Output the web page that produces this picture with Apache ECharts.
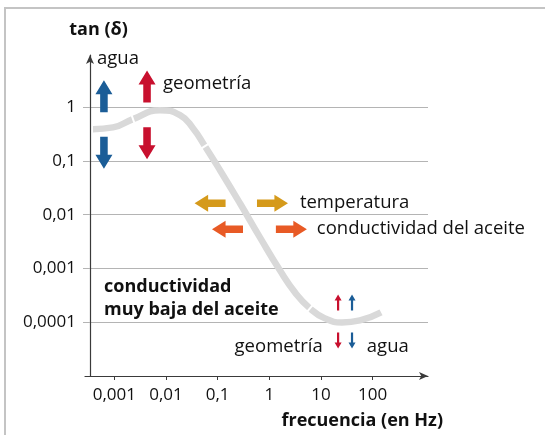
<!DOCTYPE html>
<html>
<head>
<meta charset="utf-8">
<script src="https://cdn.jsdelivr.net/npm/echarts@6/dist/echarts.min.js"></script>
<style>
  html, body { margin: 0; padding: 0; background: #fff; }
  #chart { width: 545px; height: 435px; }
</style>
</head>
<body>
<div id="chart"></div>
<script>
// ejes (escala logarítmica)
var xTicks = [0.001, 0.01, 0.1, 1, 10, 100];
var xTickLabels = ['0,001', '0,01', '0,1', '1', '10', '100'];
var yTicks = [0.0001, 0.001, 0.01, 0.1, 1];
var yTickLabels = ['0,0001', '0,001', '0,01', '0,1', '1'];

// curva tan(δ) frente a frecuencia
var curveFreq = [0.000387, 0.000944, 0.0023, 0.00766, 0.0187, 0.0333, 0.0568, 0.111, 0.27, 0.658, 1.6, 3.13, 6.1, 11.9, 25.4, 56.6, 145];
var curveTan = [0.39, 0.42, 0.60, 0.88, 0.71, 0.406, 0.188, 0.0671, 0.0163, 0.00379, 0.000922, 0.000359, 0.000181, 0.000118, 0.0000991, 0.000108, 0.000152];
// cortes blancos de la curva (índices de puntos)
var curveGaps = [2, 6, 12];

// flechas: [frecuencia, tan(δ)]
var blueUp = [[0.00063, 1.6]];
var blueDown = [[0.00063, 0.142]];
var redUp = [[0.0043, 2.41]];
var redDown = [[0.0043, 0.214]];
var goldLeft = [[0.0713, 0.0163]];
var goldRight = [[1.15, 0.0163]];
var orangeLeft = [[0.155, 0.00535]];
var orangeRight = [[2.67, 0.00535]];
var smallRedUp = [[21.4, 0.000234]];
var smallRedDown = [[21.4, 0.0000457]];
var smallBlueUp = [[39.8, 0.000234]];
var smallBlueDown = [[39.8, 0.0000457]];

// textos: [frecuencia, tan(δ), texto]
var notesLeft = [
    [0.000462, 7.83, 'agua'],
    [0.00875, 2.68, 'geometría'],
    [3.9, 0.017, 'temperatura'],
    [8.3, 0.00558, 'conductividad del aceite'],
    [76.9, 0.0000355, 'agua']
];
var notesRight = [
    [10.8, 0.0000355, 'geometría']
];
var notesBold = [
    [0.000632, 0.000272, 'conductividad\nmuy baja del aceite']
];

var FONT = '"Open Sans", "Noto Sans", sans-serif';
var TXT = '#111';

var P_UP = 'path://M9,0 L18,14 L13,14 L13,32 L5,32 L5,14 L0,14 Z';
var P_DOWN = 'path://M9,32 L18,18 L13,18 L13,0 L5,0 L5,18 L0,18 Z';
var P_LEFT = 'path://M0,9 L14,0 L14,5 L32,5 L32,13 L14,13 L14,18 Z';
var P_RIGHT = 'path://M32,9 L18,0 L18,5 L0,5 L0,13 L18,13 L18,18 Z';
var P_SUP = 'path://M3.5,0 L7,6 L4.6,6 L4.6,16 L2.4,16 L2.4,6 L0,6 Z';
var P_SDOWN = 'path://M3.5,16 L7,10 L4.6,10 L4.6,0 L2.4,0 L2.4,10 L0,10 Z';

function arrows(pts, path, size, color) {
    return {
        type: 'scatter',
        data: pts,
        symbol: path,
        symbolSize: size,
        itemStyle: { color: color, opacity: 1 },
        silent: true,
        z: 5
    };
}

function notes(pts, pos, bold, size, lineHeight) {
    return {
        type: 'scatter',
        data: pts.map(function (p) { return { value: [p[0], p[1]], name: p[2] }; }),
        symbolSize: 0,
        silent: true,
        clip: false,
        itemStyle: { opacity: 1 },
        label: {
            show: true,
            position: pos,
            distance: 0,
            formatter: '{b}',
            fontFamily: FONT,
            fontSize: size,
            fontWeight: bold ? 'bold' : 'normal',
            lineHeight: lineHeight || 22,
            color: TXT,
            opacity: 1
        },
        z: 6
    };
}

function tickText(ticks, labels) {
    return function (v) {
        for (var i = 0; i < ticks.length; i++) {
            if (Math.abs(Math.log10(v) - Math.log10(ticks[i])) < 1e-6) return labels[i];
        }
        return '';
    };
}

var curveData = curveFreq.map(function (f, i) { return [f, curveTan[i]]; });

var myChart = echarts.init(document.getElementById('chart'));

var option = {
    animation: false,
    backgroundColor: '#fff',
    graphic: [{
        type: 'rect',
        shape: { x: 5, y: 8, width: 700, height: 600 },
        style: { fill: null, stroke: '#c4c4c4', lineWidth: 2 },
        silent: true
    }],
    grid: { left: 85, right: 117, top: 55, bottom: 59 },
    xAxis: {
        type: 'log',
        logBase: 10,
        min: 0.000271,
        max: 1175,
        name: 'frecuencia (en Hz)',
        nameLocation: 'end',
        nameGap: 15,
        nameTextStyle: {
            fontFamily: FONT, fontSize: 18, fontWeight: 'bold', color: TXT,
            align: 'right', verticalAlign: 'top', padding: [36, 0, 0, 0]
        },
        axisLine: {
            show: true,
            symbol: ['none', 'arrow'],
            symbolSize: [6, 9],
            lineStyle: { color: '#3a3a3a', width: 1.2 }
        },
        axisTick: {
            show: true, inside: false, length: 4, customValues: xTicks,
            lineStyle: { color: '#3a3a3a', width: 1 }
        },
        axisLabel: {
            customValues: xTicks,
            formatter: tickText(xTicks, xTickLabels),
            margin: 11,
            fontFamily: FONT, fontSize: 17, color: TXT
        },
        splitLine: { show: false },
        minorTick: { show: false },
        minorSplitLine: { show: false }
    },
    yAxis: {
        type: 'log',
        logBase: 10,
        min: 0.00001,
        max: 9.33,
        position: 'left',
        offset: -5,
        name: 'tan (δ)',
        nameLocation: 'end',
        nameGap: 16,
        nameTextStyle: {
            fontFamily: FONT, fontSize: 18, fontWeight: 'bold', color: TXT,
            align: 'center', padding: [0, 0, 0, 17]
        },
        axisLine: {
            show: true,
            symbol: ['none', 'arrow'],
            symbolSize: [6, 9],
            lineStyle: { color: '#3a3a3a', width: 1.2 }
        },
        axisTick: {
            show: true, inside: false, length: 7, customValues: yTicks,
            lineStyle: { color: '#b4b4b4', width: 1 }
        },
        axisLabel: {
            customValues: yTicks,
            formatter: tickText(yTicks, yTickLabels),
            margin: 14,
            fontFamily: FONT, fontSize: 17, color: TXT
        },
        splitLine: { show: true, lineStyle: { color: '#b4b4b4', width: 1 } },
        minorTick: { show: false },
        minorSplitLine: { show: false }
    },
    series: [
        {
            type: 'line',
            data: curveData,
            smooth: 0.5,
            showSymbol: false,
            silent: true,
            lineStyle: { color: '#d9d9d9', width: 6.5, cap: 'butt' },
            z: 2
        },
        arrows(blueUp, P_UP, [17, 32], '#1b5d97'),
        arrows(blueDown, P_DOWN, [17, 32], '#1b5d97'),
        arrows(redUp, P_UP, [17, 32], '#c8102e'),
        arrows(redDown, P_DOWN, [17, 32], '#c8102e'),
        arrows(goldLeft, P_LEFT, [31, 17], '#d59a1b'),
        arrows(goldRight, P_RIGHT, [31, 17], '#d59a1b'),
        arrows(orangeLeft, P_LEFT, [31, 17], '#e85a25'),
        arrows(orangeRight, P_RIGHT, [31, 17], '#e85a25'),
        arrows(smallRedUp, P_SUP, [7, 16], '#c8102e'),
        arrows(smallRedDown, P_SDOWN, [7, 16], '#c8102e'),
        arrows(smallBlueUp, P_SUP, [7, 16], '#1b5d97'),
        arrows(smallBlueDown, P_SDOWN, [7, 16], '#1b5d97'),
        notes(notesLeft, 'right', false, 18.5),
        notes(notesRight, 'left', false, 18.5),
        notes(notesBold, 'right', true, 18, 23)
    ]
};

myChart.setOption(option);

// cortes blancos perpendiculares a la curva
var gapData = curveGaps.map(function (i) {
    var a = myChart.convertToPixel({ gridIndex: 0 }, curveData[i - 1]);
    var b = myChart.convertToPixel({ gridIndex: 0 }, curveData[i + 1]);
    var ang = Math.atan2(-(b[1] - a[1]), b[0] - a[0]) * 180 / Math.PI;
    return { value: curveData[i], symbolRotate: ang };
});
myChart.setOption({
    series: option.series.concat([{
        type: 'scatter',
        data: gapData,
        symbol: 'rect',
        symbolSize: [2, 11],
        itemStyle: { color: '#fff', opacity: 1 },
        silent: true,
        z: 3
    }])
});
</script>
</body>
</html>
